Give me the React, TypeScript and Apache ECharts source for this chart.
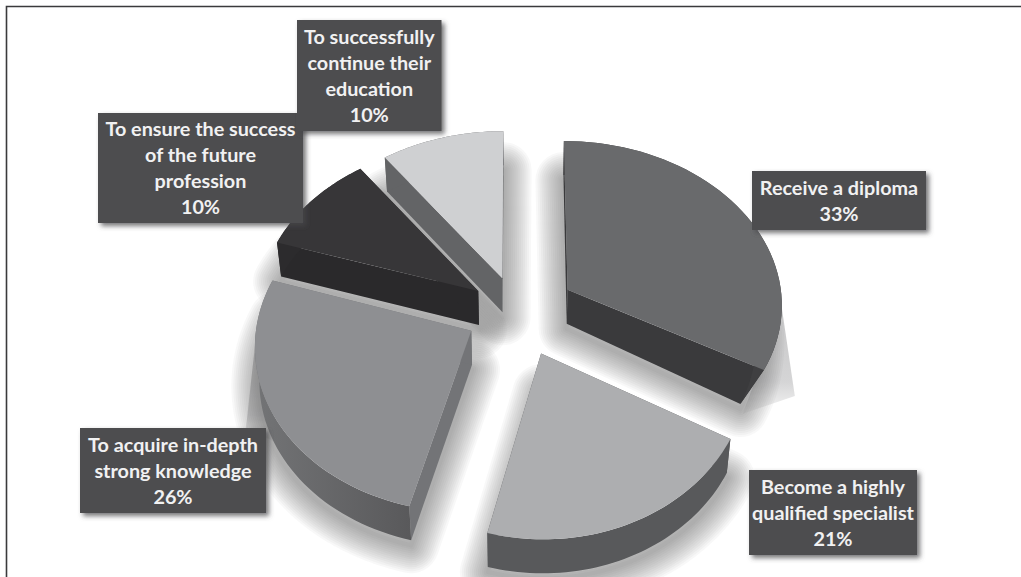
import React, { useEffect, useRef } from "react";
import * as echarts from "echarts";

// Reasons for studying, share of respondents, clockwise from twelve o'clock
const categories = [
  "Receive a diploma",
  "Become a highly\nqualified specialist",
  "To acquire in-depth\nstrong knowledge",
  "To ensure the success\nof the future\nprofession",
  "To successfully\ncontinue their\neducation",
];
const shares = [33, 21, 26, 10, 10];

// Slice styling
const topColors = ["#696a6c", "#adaeb0", "#8e8f92", "#373638", "#cfd0d2"];
const rimColors = ["#3f3f41", "#58595b", "#636466", "#2c2b2d", "#636466"];
const cutColors = ["#3a3a3c", "#58595b", "#737477", "#2a292b", "#636466"];
const explode = [0.27, 0.27, 0.235, 0.22, 0.22];
const radiusX = [0.98, 0.92, 0.97, 1, 0.99];
const wallInset = [0.9, 1, 1, 1, 1];

// Where the long cast shadow runs from the widest point of a slice
const castDrift = [[13, 88], null, [-9, 82], null, null];

// Label boxes: left, top, right, bottom
const labelBoxes = [
  [752, 171, 926, 230],
  [749, 470, 917, 555],
  [80, 428, 266, 513],
  [98, 113, 303, 223],
  [297, 20, 441.5, 131],
];

// Perspective camera for the tilted disc
const CX = 517;
const CY = 312;
const SCALE_X = 220;
const SCALE_Y = 164;
const PERSPECTIVE = 0.08;
const DEPTH = 34;
const BASE_SHRINK = 0.983;
const ARC_STEPS = 48;

// Soft shadow built from stacked translucent outlines
const SHADOW_LAYERS = 14;
const SHADOW_STEP = 4;
const SHADOW_DROP = 5;
const SHADOW_ALPHA = 0.04;

const FONT = 'Lato, "Open Sans", sans-serif';

function project(X: number, Y: number) {
  const w = 1 + PERSPECTIVE * Y;
  return [CX + (SCALE_X * X) / w, CY - (SCALE_Y * Y) / w];
}

function toBase(p: number[], apex: number[], inset: number) {
  const x = CX + (apex[0] + (p[0] - apex[0]) * inset - CX) * BASE_SHRINK;
  return [x, p[1] + DEPTH];
}

function sliceGeometry(index: number) {
  const total = shares.reduce((a, b) => a + b, 0);
  const before = shares.slice(0, index).reduce((a, b) => a + b, 0);
  const start = (before / total) * Math.PI * 2;
  const end = ((before + shares[index]) / total) * Math.PI * 2;
  const mid = (start + end) / 2;
  const ox = Math.sin(mid) * explode[index];
  const oy = Math.cos(mid) * explode[index];
  const apex = project(ox, oy);
  const rim: number[][] = [];
  for (let i = 0; i <= ARC_STEPS; i++) {
    const a = start + ((end - start) * i) / ARC_STEPS;
    rim.push(project(ox + Math.sin(a) * radiusX[index], oy + Math.cos(a)));
  }
  const inset = wallInset[index];
  const apexBase = toBase(apex, apex, inset);
  const rimBase = rim.map((p) => toBase(p, apex, inset));
  return { apex, rim, apexBase, rimBase };
}

function polygon(points: number[][], fill: any, extra: any = {}) {
  return { type: "polygon", shape: { points }, style: { fill, ...extra } };
}

// Soft shadow cast below every slice, plus a long wedge on the widest slices
function renderShadow(_params: any, api: any) {
  const index = api.value(0);
  const g = sliceGeometry(index);
  const children: any[] = [];
  const drift = castDrift[index];
  if (drift) {
    const widest = g.rim.reduce((best, p) =>
      Math.abs(p[0] - CX) > Math.abs(best[0] - CX) ? p : best
    );
    const far = [widest[0] + drift[0], widest[1] + drift[1]];
    const inner = [widest[0] - drift[0] * 3, widest[1] + drift[1] * 1.2];
    children.push(
      polygon(
        [widest, far, inner],
        new echarts.graphic.LinearGradient(0, 0, 0, 1, [
          { offset: 0, color: "#c6c6c7" },
          { offset: 0.7, color: "#d5d5d6" },
          { offset: 1, color: "#f6f6f6" },
        ])
      )
    );
  }
  const outline = [g.apexBase, ...g.rimBase].map((p) => [p[0], p[1] + SHADOW_DROP]);
  for (let i = SHADOW_LAYERS; i >= 1; i--) {
    children.push(
      polygon(outline, "none", {
        stroke: `rgba(64,64,64,${SHADOW_ALPHA})`,
        lineWidth: i * SHADOW_STEP,
        lineJoin: "round",
      })
    );
  }
  return { type: "group", children };
}

// Cut faces, outer wall and top of one slice
function renderSlice(_params: any, api: any) {
  const index = api.value(0);
  const g = sliceGeometry(index);
  const last = g.rim.length - 1;
  const rimFill =
    index === 2
      ? new echarts.graphic.LinearGradient(0, 0, 1, 0, [
          { offset: 0, color: "#737476" },
          { offset: 1, color: "#59595b" },
        ])
      : rimColors[index];
  return {
    type: "group",
    children: [
      polygon([g.apex, g.rim[0], g.rimBase[0], g.apexBase], cutColors[index]),
      polygon([g.apex, g.rim[last], g.rimBase[last], g.apexBase], cutColors[index]),
      polygon([...g.rim, ...[...g.rimBase].reverse()], rimFill),
      polygon([g.apex, ...g.rim], topColors[index]),
    ],
  };
}

// Dark caption box behind the category name and its share
function renderLabel(_params: any, api: any) {
  const [l, t, r, b] = labelBoxes[api.value(0)];
  return {
    type: "rect",
    shape: { x: l, y: t, width: r - l, height: b - t },
    style: {
      fill: "#4d4d4f",
      shadowBlur: 5,
      shadowColor: "rgba(70,70,72,0.75)",
      shadowOffsetX: 3,
      shadowOffsetY: 3,
    },
  };
}

function renderLabelText(_params: any, api: any) {
  const index = api.value(0);
  const [l, t, r, b] = labelBoxes[index];
  return {
    type: "text",
    style: {
      x: (l + r) / 2,
      y: (t + b) / 2 - 1,
      text: `${categories[index]}\n${api.value(1)}%`,
      fill: "#f1f1f2",
      font: `700 19.8px ${FONT}`,
      lineHeight: 26,
      align: "center",
      verticalAlign: "middle",
    },
  };
}

export default function App() {
  const ref = useRef<HTMLDivElement>(null);

  useEffect(() => {
    const chart = echarts.init(ref.current!, null, { renderer: "svg" });
    const data = shares.map((v, i) => [i, v]);
    const layer = (renderItem: any, z: number) => ({
      type: "custom",
      coordinateSystem: "none",
      renderItem,
      data,
      z,
      silent: true,
    });
    chart.setOption({
      animation: false,
      backgroundColor: "#ffffff",
      graphic: [
        {
          type: "polyline",
          shape: { points: [[6.5, 577], [6.5, 6.5], [1021, 6.5]] },
          style: { fill: "none", stroke: "#3a3a3c", lineWidth: 1.6 },
          z: 1,
        },
      ],
      series: [
        layer(renderShadow, 2),
        layer(renderSlice, 3),
        layer(renderLabel, 4),
        layer(renderLabelText, 5),
      ],
    });
    return () => chart.dispose();
  }, []);

  return (
    <div
      ref={ref}
      style={{ position: "fixed", left: 0, top: 0, width: 1021, height: 577 }}
    />
  );
}
